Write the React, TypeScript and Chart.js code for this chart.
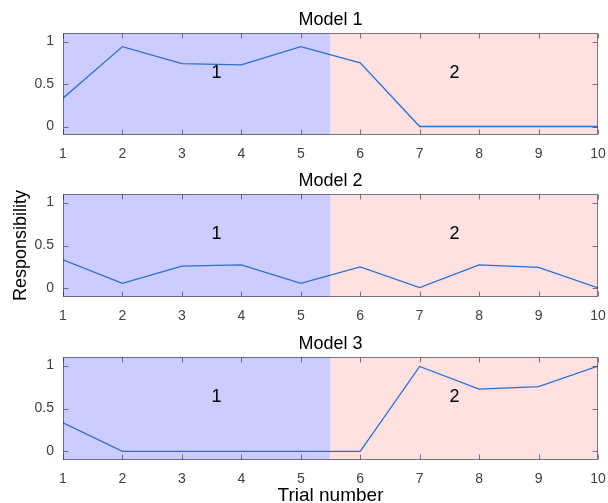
import React, { useEffect, useRef } from 'react';
import { Chart, registerables } from 'chart.js';
Chart.register(...registerables);

const trials = [1, 2, 3, 4, 5, 6, 7, 8, 9, 10];
const model1 = [0.333, 0.94, 0.74, 0.725, 0.94, 0.75, 0, 0, 0, 0];
const model2 = [0.333, 0.06, 0.26, 0.275, 0.06, 0.25, 0.01, 0.275, 0.245, 0.005];
const model3 = [0.333, 0, 0, 0, 0, 0, 0.99, 0.725, 0.755, 0.995];
const yTicks = [0, 0.5, 1];
const titles = ['Model 1', 'Model 2', 'Model 3'];
const regionLabels = ['1', '2'];
const regionBounds = [1, 5.5, 10];
const regionLabelX = [3.5, 7.5];
const regionLabelY = 0.63;
const yLabel = 'Responsibility';
const xLabel = 'Trial number';

const series = [model1, model2, model3];
const W = 608;
const H = 503;
const boxes = [
  { top: 33, bottom: 135 },
  { top: 194, bottom: 297 },
  { top: 357, bottom: 460 },
];
const FONT = '"Liberation Sans", Arial, Helvetica, sans-serif';
const regionColors = ['#ccccff', '#ffe1e1'];

function makeChart(canvas: HTMLCanvasElement, idx: number) {
  const box = boxes[idx];
  const xAxisH = 30;
  const plugin = {
    id: 'matlabStyle' + idx,
    beforeDatasetsDraw(chart: any) {
      const { ctx, chartArea } = chart;
      const xs = chart.scales.x;
      ctx.save();
      for (let r = 0; r < 2; r++) {
        const x0 = xs.getPixelForValue(regionBounds[r]);
        const x1 = xs.getPixelForValue(regionBounds[r + 1]);
        ctx.fillStyle = regionColors[r];
        ctx.fillRect(x0, chartArea.top, x1 - x0, chartArea.bottom - chartArea.top);
      }
      ctx.restore();
    },
    afterDatasetsDraw(chart: any) {
      const { ctx, chartArea } = chart;
      const xs = chart.scales.x;
      const ys = chart.scales.y;
      ctx.save();
      ctx.fillStyle = '#000';
      ctx.font = `18px ${FONT}`;
      ctx.textAlign = 'left';
      ctx.textBaseline = 'middle';
      for (let r = 0; r < 2; r++) {
        ctx.fillText(regionLabels[r], xs.getPixelForValue(regionLabelX[r]), ys.getPixelForValue(regionLabelY));
      }
      ctx.strokeStyle = 'rgba(40,40,60,0.6)';
      ctx.lineWidth = 1;
      const l = Math.round(chartArea.left) + 0.5;
      const r = Math.round(chartArea.right) - 0.5;
      const t = Math.round(chartArea.top) + 0.5;
      const b = Math.round(chartArea.bottom) - 0.5;
      ctx.strokeRect(l, t, r - l, b - t);
      const tl = 5;
      ctx.beginPath();
      for (const v of trials) {
        const px = Math.round(xs.getPixelForValue(v)) + 0.5;
        ctx.moveTo(px, b);
        ctx.lineTo(px, b - tl);
        ctx.moveTo(px, t);
        ctx.lineTo(px, t + tl);
      }
      for (const v of yTicks) {
        const py = Math.round(ys.getPixelForValue(v)) + 0.5;
        ctx.moveTo(l, py);
        ctx.lineTo(l + tl, py);
        ctx.moveTo(r, py);
        ctx.lineTo(r - tl, py);
      }
      ctx.stroke();
      ctx.fillStyle = '#000';
      ctx.font = `18px ${FONT}`;
      ctx.textAlign = 'center';
      ctx.textBaseline = 'alphabetic';
      ctx.fillText(titles[idx], (chartArea.left + chartArea.right) / 2, chartArea.top - 8);
      if (idx === 1) {
        ctx.save();
        ctx.translate(21, (chartArea.top + chartArea.bottom) / 2);
        ctx.rotate(-Math.PI / 2);
        ctx.textBaseline = 'middle';
        ctx.fillText(yLabel, 0, 0);
        ctx.restore();
      }
      if (idx === 2) {
        ctx.font = `19px ${FONT}`;
        ctx.fillText(xLabel, (chartArea.left + chartArea.right) / 2, 501);
      }
      ctx.restore();
    },
  };

  return new Chart(canvas, {
    type: 'line',
    data: {
      datasets: [
        {
          data: trials.map((t, i) => ({ x: t, y: series[idx][i] })),
          borderColor: '#2a6fce',
          borderWidth: 1.3,
          pointRadius: 0,
          fill: false,
          tension: 0,
        },
      ],
    },
    options: {
      animation: false,
      responsive: false,
      devicePixelRatio: 1,
      events: [],
      layout: {
        padding: { left: 0, right: W - 598, top: box.top, bottom: H - box.bottom - xAxisH },
      },
      plugins: { legend: { display: false }, tooltip: { enabled: false }, title: { display: false } },
      scales: {
        x: {
          type: 'linear',
          min: 1,
          max: 10,
          grid: { display: false, drawTicks: false },
          border: { display: false },
          afterBuildTicks: (s: any) => {
            s.ticks = trials.map((v) => ({ value: v }));
          },
          afterFit: (s: any) => {
            s.height = xAxisH;
            s.paddingLeft = 0;
            s.paddingRight = 0;
          },
          ticks: {
            padding: 11,
            maxRotation: 0,
            autoSkip: false,
            color: '#404040',
            font: { family: FONT, size: 14 },
          },
        },
        y: {
          min: -0.1,
          max: 1.1,
          grid: { display: false, drawTicks: false },
          border: { display: false },
          afterBuildTicks: (s: any) => {
            s.ticks = yTicks.map((v) => ({ value: v }));
          },
          afterFit: (s: any) => {
            s.width = 63;
            s.paddingTop = 0;
            s.paddingBottom = 0;
          },
          ticks: {
            padding: 9,
            color: '#404040',
            font: { family: FONT, size: 14 },
            callback: (v: any) => String(v),
          },
        },
      },
    },
    plugins: [plugin],
  } as any);
}

export default function App() {
  const refs = [useRef<HTMLCanvasElement>(null), useRef<HTMLCanvasElement>(null), useRef<HTMLCanvasElement>(null)];
  useEffect(() => {
    const charts = refs.map((r, i) => makeChart(r.current as HTMLCanvasElement, i));
    return () => charts.forEach((c) => c.destroy());
  }, []);
  return (
    <div style={{ position: 'absolute', left: 0, top: 0, width: W, height: H, background: '#fff' }}>
      {refs.map((r, i) => (
        <canvas
          key={i}
          ref={r}
          width={W}
          height={H}
          style={{ position: 'absolute', left: 0, top: 0, width: W, height: H }}
        />
      ))}
    </div>
  );
}
